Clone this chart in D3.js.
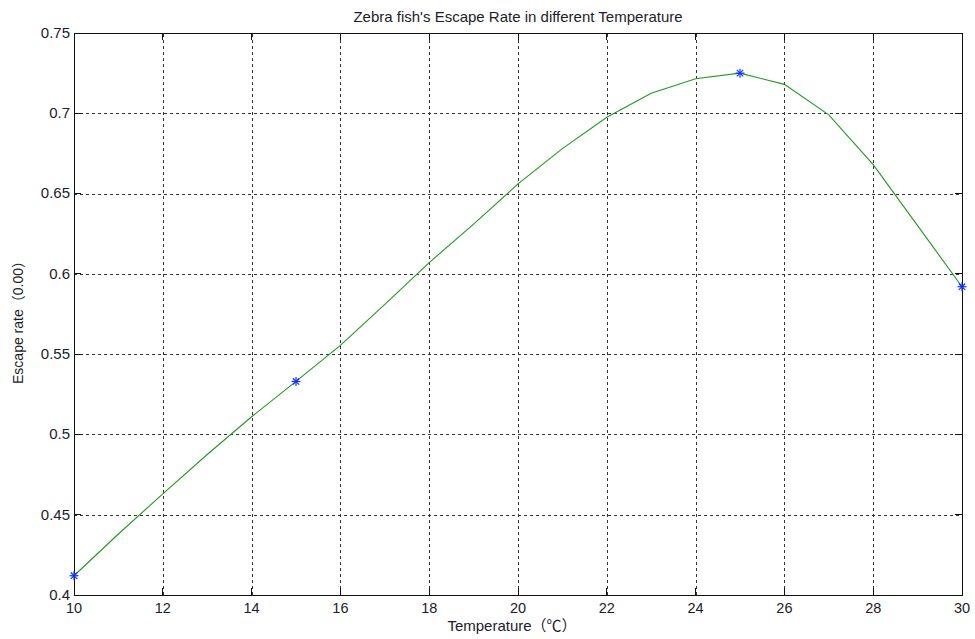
<!DOCTYPE html>
<html>
<head>
    <meta charset="utf-8">
    <title>Zebra fish's Escape Rate in different Temperature</title>
    <script src="https://cdn.jsdelivr.net/npm/d3@7"></script>
    <style>
        body { margin: 0; background: #fff; }
        svg text { font-family: "Liberation Sans", Arial, "Noto Sans CJK SC", sans-serif; fill: #1c1c2a; }
        .grid line { stroke: #333; stroke-dasharray: 3,3; shape-rendering: crispEdges; }
        .grid path { display: none; }
        .frame { fill: none; stroke: #111; shape-rendering: crispEdges; }
    </style>
</head>
<body>
<script>
    var temps = [10, 11, 12, 13, 14, 15, 16, 17, 18, 19, 20,
                 21, 22, 23, 24, 25, 26, 27, 28, 29, 30];
    var rates = [0.412, 0.438, 0.463, 0.4875, 0.511, 0.533, 0.5555, 0.581, 0.607, 0.631, 0.656,
                 0.678, 0.6975, 0.7125, 0.7215, 0.725, 0.718, 0.699, 0.668, 0.630, 0.592];

    // measured points (star markers)
    var markTemps = [10, 15, 25, 30];
    var markRates = [0.412, 0.533, 0.725, 0.592];

    var xTicks = [10, 12, 14, 16, 18, 20, 22, 24, 26, 28, 30];
    var yTicks = [0.4, 0.45, 0.5, 0.55, 0.6, 0.65, 0.7, 0.75];
    var yTickLabels = ["0.4", "0.45", "0.5", "0.55", "0.6", "0.65", "0.7", "0.75"];

    var width = 975,
        height = 639,
        margin = {top: 33, right: 13, bottom: 44, left: 74};
    var w = width - margin.left - margin.right,
        h = height - margin.top - margin.bottom;

    var x = d3.scaleLinear().domain([10, 30]).range([0, w]);
    var y = d3.scaleLinear().domain([0.4, 0.75]).range([h, 0]);

    var svg = d3.select("body").append("svg")
        .attr("width", width)
        .attr("height", height);

    var g = svg.append("g")
        .attr("transform", "translate(" + margin.left + "," + margin.top + ")");

    // dotted grid
    g.append("g")
        .attr("class", "grid")
        .attr("transform", "translate(0," + h + ")")
        .call(d3.axisBottom(x).tickValues(xTicks).tickSize(-h).tickFormat(""));
    g.append("g")
        .attr("class", "grid")
        .call(d3.axisLeft(y).tickValues(yTicks).tickSize(-w).tickFormat(""));

    // inward tick marks on all four sides
    var tl = 7;
    var ticks = g.append("g").attr("stroke", "#111").attr("shape-rendering", "crispEdges");
    xTicks.forEach(function (t) {
        ticks.append("line").attr("x1", x(t)).attr("x2", x(t)).attr("y1", h).attr("y2", h - tl);
        ticks.append("line").attr("x1", x(t)).attr("x2", x(t)).attr("y1", 0).attr("y2", tl);
    });
    yTicks.forEach(function (t) {
        ticks.append("line").attr("y1", y(t)).attr("y2", y(t)).attr("x1", 0).attr("x2", tl);
        ticks.append("line").attr("y1", y(t)).attr("y2", y(t)).attr("x1", w).attr("x2", w - tl);
    });

    g.append("rect").attr("class", "frame")
        .attr("x", 0).attr("y", 0).attr("width", w).attr("height", h);

    // tick labels
    g.selectAll(".xl").data(xTicks).enter().append("text")
        .attr("x", function (d) { return x(d); })
        .attr("y", h + 18)
        .attr("text-anchor", "middle")
        .attr("font-size", 14.5)
        .text(function (d) { return d; });

    g.selectAll(".yl").data(yTicks).enter().append("text")
        .attr("x", -4)
        .attr("y", function (d) { return y(d); })
        .attr("dy", "0.32em")
        .attr("text-anchor", "end")
        .attr("font-size", 15)
        .text(function (d, i) { return yTickLabels[i]; });

    // curve
    var line = d3.line()
        .x(function (d, i) { return x(temps[i]); })
        .y(function (d) { return y(d); });

    g.append("path")
        .datum(rates)
        .attr("fill", "none")
        .attr("stroke", "#1f9a1f")
        .attr("stroke-width", 1.1)
        .attr("d", line);

    // star markers
    var star = g.selectAll(".mk").data(markRates).enter().append("g")
        .attr("transform", function (d, i) {
            return "translate(" + x(markTemps[i]) + "," + y(d) + ")";
        })
        .attr("stroke", "#1030ff")
        .attr("stroke-width", 1.2);
    var r = 4.5, q = 3.2;
    star.append("line").attr("x1", -r).attr("x2", r).attr("y1", 0).attr("y2", 0);
    star.append("line").attr("x1", 0).attr("x2", 0).attr("y1", -r).attr("y2", r);
    star.append("line").attr("x1", -q).attr("x2", q).attr("y1", -q).attr("y2", q);
    star.append("line").attr("x1", -q).attr("x2", q).attr("y1", q).attr("y2", -q);

    // title and axis labels
    svg.append("text")
        .attr("x", margin.left + w / 2)
        .attr("y", 22)
        .attr("text-anchor", "middle")
        .attr("font-size", 15)
        .text("Zebra fish's Escape Rate in different Temperature");

    svg.append("text")
        .attr("x", 512)
        .attr("y", 631)
        .attr("text-anchor", "middle")
        .attr("font-size", 15)
        .text("Temperature（℃）");

    svg.append("text")
        .attr("transform", "translate(23,319) rotate(-90)")
        .attr("text-anchor", "middle")
        .attr("font-size", 14)
        .text("Escape rate（0.00）");
</script>
</body>
</html>
